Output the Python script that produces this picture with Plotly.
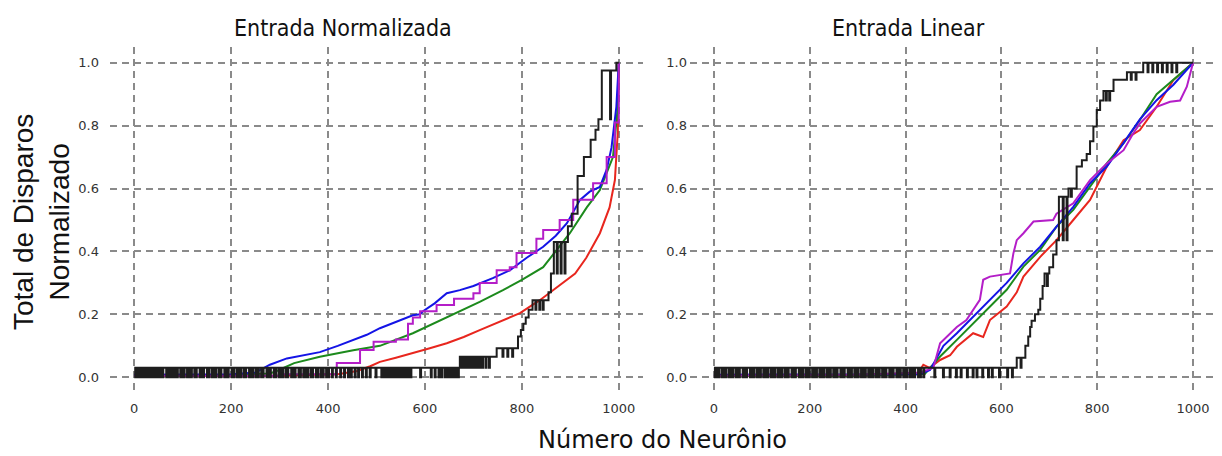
import plotly.graph_objects as go

# ---------------- data ----------------
# Left panel: "Entrada Normalizada"
blue_l_n = [0, 100, 200, 250, 280, 315, 350, 383, 420, 452, 480, 507, 540, 575, 590, 596, 620, 645, 672, 700, 740, 775, 810, 844, 870, 893, 920, 940, 961, 975, 985, 995, 1000]
blue_l_v = [0.008, 0.008, 0.01, 0.015, 0.04, 0.06, 0.07, 0.08, 0.10, 0.118, 0.135, 0.156, 0.175, 0.197, 0.2, 0.21, 0.235, 0.267, 0.277, 0.29, 0.315, 0.34, 0.38, 0.415, 0.45, 0.49, 0.564, 0.59, 0.605, 0.66, 0.73, 0.86, 1.0]

green_l_n = [0, 200, 280, 294, 330, 383, 452, 507, 575, 645, 713, 761, 800, 844, 870, 899, 934, 961, 988, 998, 1000]
green_l_v = [0.005, 0.008, 0.012, 0.02, 0.045, 0.065, 0.086, 0.10, 0.14, 0.19, 0.24, 0.277, 0.31, 0.35, 0.40, 0.458, 0.54, 0.595, 0.70, 0.86, 1.0]

red_l_n = [0, 300, 420, 460, 487, 507, 540, 575, 610, 645, 680, 713, 750, 796, 837, 865, 885, 910, 933, 961, 981, 992, 998, 1000]
red_l_v = [0.005, 0.005, 0.01, 0.02, 0.035, 0.049, 0.062, 0.076, 0.092, 0.108, 0.128, 0.15, 0.175, 0.204, 0.245, 0.278, 0.30, 0.33, 0.38, 0.458, 0.54, 0.627, 0.78, 1.0]

mag_l_n = [0, 300, 410, 418, 466, 494, 540, 565, 575, 590, 624, 660, 700, 713, 748, 775, 789, 830, 844, 878, 906, 947, 975, 992, 1000]
mag_l_v = [0.005, 0.01, 0.01, 0.045, 0.087, 0.113, 0.12, 0.17, 0.19, 0.21, 0.23, 0.25, 0.267, 0.30, 0.34, 0.35, 0.395, 0.44, 0.468, 0.50, 0.564, 0.617, 0.70, 0.81, 1.0]

black_l_step_n = [0, 672, 748, 792, 798, 803, 808, 814, 822, 855, 860, 866, 895, 903, 915, 928, 942, 952, 958, 965, 995, 1000]
black_l_step_v = [0.03, 0.065, 0.092, 0.13, 0.15, 0.17, 0.19, 0.215, 0.245, 0.27, 0.33, 0.43, 0.48, 0.52, 0.64, 0.70, 0.755, 0.787, 0.82, 0.975, 1.0, 1.0]
black_l_dip_n = [2, 5, 9, 14, 18, 22, 27, 33, 37, 40, 46, 51, 55, 58, 66, 70, 73, 79, 84, 88,
                 95, 99, 102, 109, 113, 117, 124, 127, 135, 139, 142, 150, 153, 160, 164, 168,
                 175, 178, 186, 189, 193, 201, 204, 211, 215, 219, 226, 229, 237, 240, 244, 251,
                 255, 262, 265, 273, 277, 280, 288, 291, 298, 302, 306, 313, 316, 324, 327, 331,
                 339, 342, 349, 353, 357, 364, 367, 375, 378, 385, 389, 396, 400, 408, 416,
                 425, 433, 441, 447, 455, 462, 470, 478, 486, 498, 510, 516, 522, 528, 534, 540,
                 546, 552, 558, 564, 570, 590, 612, 620, 628, 634, 641, 647, 652, 658, 664, 668,
                 676, 682, 688, 694, 700, 706, 712, 718, 725, 732, 760, 770, 780,
                 828, 836, 843, 872, 880, 888, 982]

# Right panel: "Entrada Linear"
blue_r_n = [0, 300, 430, 451, 479, 507, 541, 576, 611, 646, 681, 715, 750, 785, 820, 855, 889, 924, 959, 1000]
blue_r_v = [0.008, 0.008, 0.01, 0.023, 0.10, 0.14, 0.193, 0.246, 0.30, 0.362, 0.415, 0.479, 0.542, 0.617, 0.67, 0.745, 0.82, 0.881, 0.93, 1.0]

green_r_n = [0, 300, 440, 472, 507, 541, 576, 611, 646, 681, 715, 750, 785, 820, 855, 889, 924, 959, 1000]
green_r_v = [0.005, 0.005, 0.01, 0.066, 0.119, 0.172, 0.225, 0.278, 0.352, 0.405, 0.479, 0.532, 0.606, 0.68, 0.744, 0.818, 0.90, 0.945, 1.0]

red_r_n = [0, 300, 425, 437, 450, 472, 493, 507, 541, 562, 576, 611, 632, 646, 681, 715, 750, 785, 820, 855, 889, 924, 959, 1000]
red_r_v = [0.005, 0.005, 0.01, 0.04, 0.03, 0.055, 0.07, 0.097, 0.14, 0.128, 0.182, 0.225, 0.27, 0.32, 0.383, 0.436, 0.50, 0.564, 0.67, 0.754, 0.786, 0.86, 0.945, 1.0]

mag_r_n = [0, 300, 430, 458, 472, 493, 507, 527, 555, 562, 576, 618, 625, 632, 646, 667, 708, 715, 750, 785, 820, 855, 875, 889, 924, 952, 973, 987, 1000]
mag_r_v = [0.005, 0.008, 0.015, 0.03, 0.108, 0.14, 0.16, 0.182, 0.246, 0.31, 0.32, 0.33, 0.394, 0.436, 0.458, 0.495, 0.50, 0.52, 0.553, 0.627, 0.68, 0.722, 0.775, 0.807, 0.86, 0.876, 0.88, 0.924, 1.0]

black_r_step_n = [0, 632, 650, 656, 660, 663, 670, 677, 681, 686, 690, 700, 708, 715, 720, 740, 757, 768, 778, 785, 792, 799, 806, 813, 834, 862, 896, 1000]
black_r_step_v = [0.03, 0.062, 0.10, 0.13, 0.16, 0.18, 0.20, 0.215, 0.25, 0.29, 0.33, 0.35, 0.39, 0.436, 0.574, 0.60, 0.67, 0.69, 0.71, 0.75, 0.797, 0.85, 0.88, 0.91, 0.946, 0.97, 1.0, 1.0]
black_r_dip_n = [2, 6, 9, 16, 20, 24, 31, 34, 38, 45, 49, 52, 60, 64, 67, 75, 78, 82, 89, 93,
                 96, 103, 108, 111, 118, 122, 126, 133, 136, 140, 147, 151, 154, 162, 166, 169,
                 177, 180, 184, 191, 195, 198, 205, 210, 213, 220, 224, 228, 235, 238, 242, 249,
                 253, 256, 264, 268, 271, 279, 282, 286, 293, 297, 300, 307, 312, 315, 322, 326,
                 330, 337, 340, 344, 351, 355, 358, 366, 370, 373, 381, 384, 388, 395, 399, 402,
                 409, 414, 418, 426, 430, 437,
                 460, 478, 492, 505, 515, 528, 540, 548, 560, 572, 580, 595, 612, 622,
                 640, 695, 728, 736, 745, 818, 825, 870, 880, 905, 915, 925, 935, 945, 955, 965]

x_ticks = [0, 200, 400, 600, 800, 1000]
y_ticks = [0.0, 0.2, 0.4, 0.6, 0.8, 1.0]
y_tick_text = ["0.0", "0.2", "0.4", "0.6", "0.8", "1.0"]

panel_titles = ["Entrada Normalizada", "Entrada Linear"]
x_title = "Número do Neurônio"
y_title = "Total de Disparos<br>Normalizado"

# ---------------- helpers ----------------
def stepped_with_dips(step_n, step_v, dip_n, width=2):
    """Black curve: step levels with thin downward spikes to the previous level."""
    pts = list(zip(step_n, step_v))
    for d in dip_n:
        idx = max(i for i, s in enumerate(step_n) if s <= d)
        level = step_v[idx]
        low = step_v[idx - 1] if idx > 0 else 0.0
        pts.append((d, low))
        pts.append((d + width, level))
    pts.sort(key=lambda p: p[0])
    return [p[0] for p in pts], [p[1] for p in pts]

BLUE = "#1414e6"
GREEN = "#1c8a1c"
RED = "#e8261e"
MAG = "#b41ec8"
BLACK = "#1e1e1e"

fig = go.Figure()

def add_panel(xa, ya, series, black):
    for (xs, ys, color, shape) in series:
        fig.add_trace(go.Scatter(x=xs, y=ys, mode="lines", xaxis=xa, yaxis=ya,
                                 line=dict(color=color, width=2, shape=shape),
                                 showlegend=False, hoverinfo="skip"))
    bx, by = black
    fig.add_trace(go.Scatter(x=bx, y=by, mode="lines", xaxis=xa, yaxis=ya,
                             line=dict(color=BLACK, width=2, shape="hv"),
                             showlegend=False, hoverinfo="skip"))

add_panel("x", "y",
          [(red_l_n, red_l_v, RED, "linear"),
           (green_l_n, green_l_v, GREEN, "linear"),
           (blue_l_n, blue_l_v, BLUE, "linear"),
           (mag_l_n, mag_l_v, MAG, "hv")],
          stepped_with_dips(black_l_step_n, black_l_step_v, black_l_dip_n))

add_panel("x2", "y2",
          [(red_r_n, red_r_v, RED, "linear"),
           (green_r_n, green_r_v, GREEN, "linear"),
           (blue_r_n, blue_r_v, BLUE, "linear"),
           (mag_r_n, mag_r_v, MAG, "linear")],
          stepped_with_dips(black_r_step_n, black_r_step_v, black_r_dip_n))

W, H = 1222, 456
ML, MR, MT, MB = 110, 5, 47, 63
PW = W - ML - MR
PH = H - MT - MB

def px_x(p):
    return (p - ML) / PW

def px_y(p):
    return (H - MB - p) / PH

tick_font = dict(family="DejaVu Sans, sans-serif", size=13, color="#333333")
grid = dict(showgrid=True, gridcolor="#8a8a8a", gridwidth=1.8, griddash="7px,5px",
            zeroline=False, showline=False, ticks="", tickfont=tick_font)

xcommon = dict(range=[-50, 1050], tickvals=x_ticks, ticktext=[str(t) for t in x_ticks],
               ticklabelstandoff=6, **grid)
ycommon = dict(range=[-0.05, 1.05], tickvals=y_ticks, ticktext=y_tick_text, **grid)

title_font = dict(family="DejaVu Sans Condensed, Liberation Sans, Arial, sans-serif", size=23, color="#111111")

fig.update_layout(
    width=W, height=H,
    margin=dict(l=ML, r=MR, t=MT, b=MB),
    paper_bgcolor="white", plot_bgcolor="white",
    xaxis=dict(domain=[0, px_x(643)], anchor="y", **xcommon),
    yaxis=dict(domain=[0, 1], anchor="x", ticklabelstandoff=10, **ycommon),
    xaxis2=dict(domain=[px_x(690), 1], anchor="y2", **xcommon),
    yaxis2=dict(domain=[0, 1], anchor="x2", ticklabelstandoff=2, **ycommon),
    annotations=[
        dict(text=panel_titles[0], x=px_x(343), y=px_y(28), xref="paper", yref="paper",
             xanchor="center", yanchor="middle", showarrow=False, font=title_font),
        dict(text=panel_titles[1], x=px_x(908), y=px_y(28), xref="paper", yref="paper",
             xanchor="center", yanchor="middle", showarrow=False, font=title_font),
        dict(text=x_title, x=px_x(662), y=px_y(440), xref="paper", yref="paper",
             xanchor="center", yanchor="middle", showarrow=False,
             font=dict(family="DejaVu Sans, sans-serif", size=24, color="#111111")),
        dict(text=y_title, x=px_x(41), y=px_y(222), xref="paper", yref="paper",
             xanchor="center", yanchor="middle", showarrow=False, textangle=-90,
             font=dict(family="Liberation Sans, Arial, sans-serif", size=28, color="#111111")),
    ],
)

fig.write_html("out.html")
